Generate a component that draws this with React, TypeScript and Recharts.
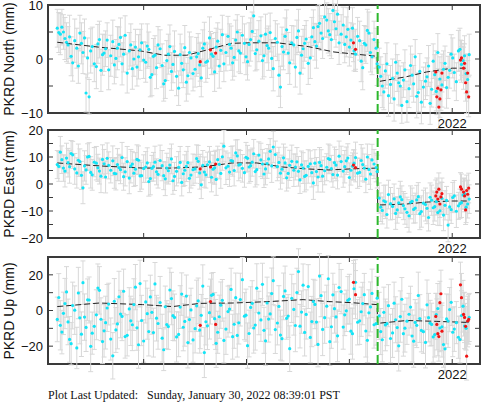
import {
  ComposedChart,
  Scatter,
  Line,
  XAxis,
  YAxis,
  ErrorBar,
  ReferenceLine,
  ReferenceArea,
} from "recharts";

// epochs (decimal year), first set
const dates = [
  2018.16, 2018.19, 2018.22, 2018.25, 2018.28, 2018.31, 2018.35, 2018.38, 2018.41, 2018.44,
  2018.47, 2018.5, 2018.54, 2018.57, 2018.6, 2018.63, 2018.66, 2018.7, 2018.73, 2018.76,
  2018.79, 2018.82, 2018.86, 2018.89, 2018.92, 2018.95, 2018.98, 2019.02, 2019.05, 2019.08,
  2019.11, 2019.14, 2019.18, 2019.21, 2019.24, 2019.27, 2019.3, 2019.34, 2019.37, 2019.4,
  2019.43, 2019.46, 2019.5, 2019.53, 2019.56, 2019.59, 2019.62, 2019.66, 2019.69, 2019.72,
  2019.75, 2019.78, 2019.82, 2019.85, 2019.88, 2019.91, 2019.94, 2019.98, 2020.01, 2020.04,
  2020.07, 2020.1, 2020.14, 2020.17, 2020.2, 2020.23, 2020.26, 2020.3, 2020.33, 2020.36,
  2020.39, 2020.42, 2020.46, 2020.49, 2020.52, 2020.55, 2020.58, 2020.62, 2020.65, 2020.68,
  2020.71, 2020.74, 2020.78, 2020.81, 2020.84, 2020.87, 2020.9, 2020.94, 2020.97, 2021.0,
  2021.03, 2021.06, 2021.1, 2021.13, 2021.16, 2021.19, 2021.22, 2021.26,
  2021.29, 2021.32, 2021.35, 2021.38, 2021.42, 2021.45, 2021.48, 2021.51, 2021.54, 2021.58,
  2021.61, 2021.64, 2021.67, 2021.7, 2021.74, 2021.77, 2021.8, 2021.83, 2021.86, 2021.9,
  2021.93, 2021.96, 2021.99, 2022.02, 2022.06, 2022.09, 2022.12, 2022.15,
];

// epochs, second set (in between the first)
const datesB = [
  2018.175, 2018.205, 2018.235, 2018.265, 2018.295, 2018.33, 2018.365, 2018.395, 2018.425, 2018.455,
  2018.485, 2018.52, 2018.555, 2018.585, 2018.615, 2018.645, 2018.68, 2018.715, 2018.745, 2018.775,
  2018.805, 2018.84, 2018.875, 2018.905, 2018.935, 2018.965, 2019.0, 2019.035, 2019.065, 2019.095,
  2019.125, 2019.16, 2019.195, 2019.225, 2019.255, 2019.285, 2019.32, 2019.355, 2019.385, 2019.415,
  2019.445, 2019.48, 2019.515, 2019.545, 2019.575, 2019.605, 2019.64, 2019.675, 2019.705, 2019.735,
  2019.765, 2019.8, 2019.835, 2019.865, 2019.895, 2019.925, 2019.96, 2019.995, 2020.025, 2020.055,
  2020.085, 2020.12, 2020.155, 2020.185, 2020.215, 2020.245, 2020.28, 2020.315, 2020.345, 2020.375,
  2020.405, 2020.44, 2020.475, 2020.505, 2020.535, 2020.565, 2020.6, 2020.635, 2020.665, 2020.695,
  2020.725, 2020.76, 2020.795, 2020.825, 2020.855, 2020.885, 2020.92, 2020.955, 2020.985, 2021.015,
  2021.045, 2021.08, 2021.115, 2021.145, 2021.175, 2021.205, 2021.24, 2021.27,
  2021.305, 2021.335, 2021.365, 2021.4, 2021.435, 2021.465, 2021.495, 2021.525, 2021.56, 2021.595,
  2021.625, 2021.655, 2021.685, 2021.72, 2021.755, 2021.785, 2021.815, 2021.845, 2021.88, 2021.915,
  2021.945, 2021.975, 2022.005, 2022.04, 2022.075, 2022.105, 2022.135, 2022.165,
];

const north = [
  5.7, 4.6, 5.0, 3.1, 4.1, -0.7, 2.0, 4.8, 1.2, -6.3,
  -7.0, 2.3, -1.4, 3.6, 0.8, 1.9, -2.0, 3.2, 0.1, 2.7,
  -0.9, 4.4, 1.5, -1.8, 2.2, 0.4, 3.0, -0.6, 1.8, -2.9,
  0.7, 2.6, -1.2, -4.0, 0.9, -2.3, 1.4, -5.4, -0.8, 2.1,
  -3.1, 0.2, -1.9, 1.0, -3.5, 2.8, -0.4, 0.9, -2.4, 3.3,
  1.6, -0.9, 4.2, 2.0, 0.3, 5.0, 1.1, 2.9, -0.5, 3.6,
  8.0, 1.7, 4.3, 0.6, 2.5, 4.9, -1.8, 3.1, -5.2, 1.3,
  5.4, -0.7, 2.6, 4.0, -2.6, 1.9, 3.7, 0.2, 5.8, 2.4,
  6.6, 3.8, 7.2, 4.5, 9.0, 5.6, 3.0, 6.3, 4.1, 2.2,
  5.7, 0.9, 3.4, -1.6, 2.6, 4.8, 0.4, 2.0,
  -1.5, -5.0, -2.2, -6.8, -3.6, -0.6, -4.4, -8.6, -2.0, -5.5,
  -3.0, 0.4, -6.2, -8.0, -4.1, -1.3, -5.6, -2.9, 1.2, -4.8,
  -0.8, -3.4, 0.9, -2.5, 1.5, -1.0, 0.6, -3.8,
];
const northB = [
  4.9, 5.9, 3.8, 2.6, 0.5, 3.4, -1.3, 2.9, 3.9, 0.2,
  1.5, -0.9, 2.8, -2.1, 1.1, 3.5, 0.6, -1.1, 2.0, 4.0,
  0.9, -2.6, 2.6, 0.0, -1.5, 1.7, -0.2, 2.4, -3.4, 0.5,
  -1.6, 1.9, -4.6, -0.3, 2.3, -1.0, -3.2, 0.8, -2.0, -4.3,
  1.2, -2.7, 0.4, -1.1, 2.0, -0.6, 3.9, 0.5, 2.2, -1.3,
  4.5, 1.2, 2.7, -0.7, 3.5, 1.5, 4.4, 0.4, 2.7, 5.1,
  1.0, 3.3, -0.3, 4.6, 2.0, 0.1, 3.8, -3.0, 2.3, 4.2,
  1.1, 3.0, -1.5, 5.2, 0.7, 2.9, -0.8, 4.1, 3.2, 6.0,
  4.8, 7.8, 5.2, 3.6, 6.9, 8.3, 4.6, 2.7, 5.5, 3.5,
  1.5, 4.2, -0.4, 2.9, 5.3, 1.2, 3.6, -0.9,
  -3.2, -6.1, -0.9, -4.7, -7.4, -2.6, -5.0, -3.9, -7.9, -1.2,
  -4.6, -6.9, -2.3, -5.2, -3.3, -8.2, -0.4, -6.0, -3.7, -1.9,
  -5.3, -2.1, 0.2, -4.2, 1.8, -0.3, -2.7, 0.8,
];

const northErr = [
  3.5, 3.8, 3.2, 3.6, 4.0, 3.4, 3.7, 3.3, 3.9, 3.5,
  3.2, 3.6, 4.1, 3.4, 3.8, 3.3, 3.7, 4.0, 3.5, 3.2,
  3.9, 3.6, 3.4, 3.8, 3.3, 4.1, 3.5, 3.7, 3.2, 3.9,
  3.6, 3.4, 4.0, 3.3, 3.7, 3.5, 3.8, 3.2, 3.6, 4.1,
  3.4, 3.9, 3.3, 3.7, 3.5, 4.0, 3.2, 3.8, 3.6, 3.4,
  3.9, 3.3, 3.7, 4.1, 3.5, 3.2, 3.8, 3.6, 3.4, 4.0,
  3.3, 3.7, 3.5, 3.9, 3.2, 3.6, 4.1, 3.4, 3.8, 3.3,
  3.7, 4.0, 3.5, 3.2, 3.9, 3.6, 3.4, 3.8, 3.3, 4.1,
  3.5, 3.7, 3.2, 3.9, 3.6, 3.4, 4.0, 3.3, 3.7, 3.5,
  3.8, 3.2, 3.6, 4.1, 3.4, 3.9, 3.3, 3.7,
  3.5, 4.0, 3.2, 3.8, 3.6, 3.4, 4.1, 3.3, 3.7, 3.5,
  3.9, 3.2, 3.6, 4.0, 3.4, 3.8, 3.3, 3.7, 3.5, 4.1,
  3.2, 3.9, 3.6, 3.4, 3.8, 3.3, 3.7, 3.5,
];
const northErrB = [
  3.7, 3.3, 3.9, 3.4, 3.6, 4.0, 3.2, 3.8, 3.5, 3.7,
  4.1, 3.3, 3.6, 3.9, 3.4, 3.2, 3.8, 3.5, 4.0, 3.6,
  3.3, 3.7, 3.9, 3.2, 3.5, 3.8, 3.4, 4.1, 3.6, 3.3,
  3.9, 3.5, 3.2, 3.7, 4.0, 3.4, 3.6, 3.8, 3.3, 3.5,
  3.8, 3.2, 3.6, 4.0, 3.4, 3.7, 3.9, 3.3, 3.5, 4.1,
  3.6, 3.4, 3.8, 3.2, 3.7, 3.9, 3.5, 3.3, 4.0, 3.6,
  3.2, 3.8, 3.4, 3.7, 4.1, 3.5, 3.3, 3.9, 3.6, 3.4,
  3.8, 3.2, 3.7, 4.0, 3.5, 3.3, 3.9, 3.6, 3.4, 3.8,
  3.2, 3.7, 4.1, 3.5, 3.3, 3.9, 3.6, 3.4, 4.0, 3.2,
  3.7, 3.5, 3.8, 3.3, 3.9, 3.6, 3.4, 4.0,
  3.6, 3.3, 3.9, 3.5, 4.1, 3.4, 3.7, 3.2, 3.8, 3.6,
  3.4, 4.0, 3.3, 3.7, 3.5, 3.9, 3.2, 3.6, 4.1, 3.4,
  3.8, 3.3, 3.7, 3.5, 3.9, 3.2, 3.6, 3.8,
];

const east = [
  7.2, 11.8, 5.9, 9.6, 6.4, 10.8, 4.1, 8.3, -1.4, 5.2,
  10.2, 3.4, 7.7, 4.8, 9.1, 2.6, 6.9, 8.6, 3.8, 6.1,
  9.8, 4.5, 2.2, 7.4, 5.5, 8.8, 3.1, 6.3, 0.9, 5.8,
  8.1, 3.6, 6.8, 1.9, 4.9, 9.3, 2.8, 6.2, 0.6, 5.1,
  7.9, 3.3, 5.6, 8.4, -0.3, 4.4, 7.1, 2.5, 6.0, 9.0,
  3.9, 14.0, 6.6, 8.7, 5.0, 10.4, 7.3, 4.2, 9.5, 6.8,
  11.2, 5.3, 8.9, 3.7, 7.6, 12.1, 13.7, 6.4, 4.0, 9.7,
  2.3, 6.9, 5.1, 8.2, 1.5, 5.9, 3.2, 7.5, 0.4, 4.6,
  8.0, 2.9, 6.2, 9.1, 3.5, 7.0, 10.3, 4.8, 8.6, 2.4,
  6.6, 9.8, 4.3, 7.2, 1.8, 5.4, 8.9, 6.1,
  -5.2, -9.8, -6.6, -3.9, -8.3, -10.9, -7.0, -5.8, -9.2, -11.8,
  -6.4, -8.9, -4.7, -10.2, -7.6, -12.4, -6.0, -8.4, -10.6, -5.3,
  -7.9, -15.2, -9.5, -4.4, -8.1, -6.9, -3.6, -7.4,
];
const eastB = [
  6.5, 9.0, 4.8, 7.9, 11.3, 5.6, 8.8, 3.2, 6.7, 10.0,
  4.3, 8.1, 6.0, 2.9, 7.5, 9.5, 5.1, 3.9, 7.2, 5.3,
  2.7, 8.3, 6.6, 4.0, 9.1, 3.0, 5.7, 7.8, 2.0, 6.4,
  4.5, 8.7, 3.1, 5.9, 7.0, 1.2, 4.7, 8.0, 3.8, 6.5,
  2.1, 5.3, 9.4, 4.1, 6.9, 3.4, 8.2, 5.5, 1.7, 7.3,
  10.1, 6.0, 4.4, 8.5, 11.5, 7.0, 5.8, 9.9, 6.3, 8.1,
  4.6, 10.7, 7.4, 5.6, 9.3, 6.7, 10.9, 8.0, 5.5, 7.8,
  3.9, 8.4, 6.3, 4.7, 7.1, 2.8, 6.5, 4.2, 7.7, 2.6,
  6.8, 4.9, 9.4, 5.7, 7.9, 3.3, 8.3, 6.4, 9.6, 5.1,
  7.7, 4.0, 8.7, 5.9, 10.0, 3.7, 7.4, 4.6,
  -8.6, -6.2, -11.3, -7.3, -5.5, -9.6, -4.8, -8.0, -10.5, -6.8,
  -9.4, -5.9, -11.0, -7.1, -9.0, -4.9, -8.8, -6.5, -9.9, -11.5,
  -6.1, -8.5, -5.0, -10.1, -7.3, -4.1, -8.6, -5.6,
];

const eastErr = [
  5.2, 5.8, 4.9, 5.5, 6.1, 5.0, 5.6, 4.7, 5.9, 5.3,
  5.1, 5.7, 6.2, 4.8, 5.4, 5.9, 5.0, 5.5, 6.0, 4.9,
  5.6, 5.2, 5.8, 4.7, 6.1, 5.3, 5.0, 5.7, 5.4, 4.8,
  5.9, 5.1, 5.6, 6.2, 4.9, 5.5, 5.2, 5.8, 5.0, 5.7,
  6.0, 4.8, 5.3, 5.9, 5.1, 5.6, 4.7, 5.4, 6.1, 5.0,
  5.5, 5.8, 4.9, 5.2, 5.7, 6.0, 5.1, 5.4, 4.8, 5.9,
  5.3, 5.6, 6.2, 5.0, 5.5, 4.7, 5.8, 5.2, 5.9, 5.1,
  4.9, 5.6, 6.0, 5.3, 5.0, 5.7, 5.4, 4.8, 6.1, 5.2,
  5.5, 5.9, 5.0, 5.3, 4.7, 5.8, 5.6, 6.0, 5.1, 5.4,
  4.9, 5.7, 5.2, 6.1, 5.0, 5.5, 5.8, 5.3,
  5.6, 5.0, 6.2, 5.3, 4.8, 5.9, 5.4, 5.1, 5.7, 6.0,
  4.9, 5.5, 5.2, 5.8, 6.1, 5.0, 5.6, 5.3, 4.7, 5.9,
  5.4, 6.2, 5.1, 5.7, 5.0, 5.5, 5.8, 5.2,
];
const eastErrB = [
  5.5, 5.1, 5.9, 5.3, 4.8, 5.7, 6.0, 5.2, 5.6, 4.9,
  5.8, 5.4, 5.0, 6.1, 5.3, 5.7, 4.7, 5.5, 5.9, 5.2,
  5.0, 5.6, 6.2, 4.9, 5.4, 5.8, 5.1, 5.6, 6.0, 5.3,
  4.8, 5.7, 5.2, 5.5, 6.1, 5.0, 5.4, 5.9, 4.7, 5.6,
  5.3, 5.8, 5.1, 6.0, 5.5, 4.9, 5.7, 5.2, 5.9, 5.4,
  5.0, 6.2, 5.3, 5.6, 4.8, 5.8, 5.1, 5.5, 6.0, 5.2,
  5.7, 4.9, 5.4, 5.9, 5.3, 6.1, 5.0, 5.6, 5.2, 5.8,
  5.4, 6.0, 4.8, 5.5, 5.1, 5.7, 6.2, 5.3, 5.0, 5.6,
  5.9, 5.2, 5.4, 4.9, 5.8, 5.1, 5.7, 6.0, 5.3, 5.5,
  5.0, 5.6, 5.9, 5.2, 4.8, 5.7, 5.4, 6.1,
  5.3, 5.7, 5.0, 6.0, 5.5, 4.9, 5.8, 5.2, 5.6, 6.1,
  5.1, 5.4, 5.9, 4.8, 5.7, 5.3, 6.2, 5.0, 5.5, 5.8,
  5.2, 4.9, 5.6, 6.0, 5.4, 5.1, 5.7, 5.3,
];

const up = [
  -5.0, -8.3, -1.6, 10.4, -16.2, 2.8, -21.0, -4.1, 15.6, -9.5,
  5.9, -12.7, -2.4, 11.3, -17.4, -6.8, 3.6, -25.4, -10.9, 7.7,
  -3.3, -14.6, 0.9, -8.0, 13.1, -19.2, -5.6, 4.8, -11.8, -1.0,
  14.9, -7.3, -15.5, 2.1, -9.0, 6.7, -3.9, -13.4, 9.2, -6.1,
  -18.0, 0.3, -10.2, 5.4, -2.7, -23.6, -8.6, 8.5, -4.6, -12.2,
  3.0, -16.8, -0.6, 11.8, -7.7, -14.0, 6.1, -3.2, -19.7, 1.7,
  -9.8, 12.5, -5.3, -11.1, 4.2, -1.9, 16.7, -7.0, -13.8, 7.9,
  -4.4, -21.4, 0.6, 10.1, -8.8, 14.2, -2.2, -15.1, 5.0, -6.5,
  19.3, -10.6, 2.4, -17.5, 8.8, -3.6, 12.9, -9.3, -0.2, 6.4,
  -13.0, 15.8, -5.8, 3.9, -11.5, -1.3, 9.6, -7.4,
  -3.0, -16.4, -8.1, 2.7, -12.6, -5.2, -19.8, 6.3, -9.9, -2.1,
  -14.3, -6.7, 8.4, -11.2, -17.9, -4.0, -7.8, -13.5, 1.1, -9.1,
  -21.5, -5.9, 4.6, -10.4, -15.0, -2.8, -8.7, -6.2,
];
const upB = [
  7.3, -12.1, 3.9, -6.4, -18.6, 0.2, 9.8, -13.3, -3.7, 6.0,
  -20.1, -8.9, 12.6, -4.9, -11.4, 1.4, -16.0, 5.2, -7.5, -2.0,
  10.8, -13.9, -5.8, 3.3, -9.7, 15.1, -17.1, -1.8, 7.6, -12.4,
  -4.3, 4.5, -22.0, -7.9, 11.5, -2.9, -14.8, 1.9, -9.4, 8.1,
  -5.1, -16.5, 2.6, -11.0, 13.7, -6.3, -1.2, 9.0, -18.4, -3.5,
  5.7, -10.4, 0.8, -14.7, 7.2, -6.9, 17.3, -2.6, -12.9, 4.0,
  -8.2, -1.4, 14.7, -17.0, -4.8, 9.5, -10.7, 2.3, -15.8, 11.0,
  -3.1, 6.8, -8.4, 21.8, -0.9, -12.3, 13.4, -6.2, 3.4, -19.0,
  8.3, -4.0, 17.8, -9.1, 1.0, -14.2, 10.6, -2.4, 5.7, -11.6,
  12.2, -6.6, -0.7, 8.9, -16.7, 2.0, -8.0, 6.9,
  -11.8, -1.0, -7.4, -15.7, 4.1, -9.6, -3.4, -13.0, -6.0, 1.9,
  -17.2, -8.3, -4.5, -11.9, 3.2, -7.1, -14.8, -2.3, -9.8, -19.1,
  -4.7, 0.5, -12.2, -6.8, -16.3, 2.4, -10.0, -3.9,
];

const upErr = [
  12.5, 13.8, 11.9, 14.2, 12.8, 13.1, 11.6, 14.6, 12.2, 13.5,
  12.9, 11.8, 14.0, 13.3, 12.4, 14.8, 11.7, 13.0, 12.6, 14.3,
  13.6, 12.1, 11.9, 14.5, 12.7, 13.2, 14.1, 11.8, 13.7, 12.3,
  12.0, 14.4, 13.4, 11.6, 12.9, 14.7, 13.1, 12.5, 11.9, 13.9,
  14.2, 12.2, 13.6, 12.8, 11.7, 14.0, 13.3, 12.4, 14.6, 11.8,
  13.0, 12.6, 14.3, 11.9, 13.5, 12.1, 14.8, 13.2, 12.7, 11.6,
  14.1, 13.7, 12.0, 12.9, 14.5, 11.8, 13.4, 12.3, 14.0, 13.1,
  11.7, 12.8, 14.4, 13.6, 12.2, 11.9, 13.8, 14.2, 12.5, 13.0,
  12.6, 14.7, 11.8, 13.3, 12.1, 14.1, 13.5, 12.4, 11.6, 13.9,
  14.3, 12.7, 13.2, 11.9, 14.6, 12.9, 13.6, 12.0,
  13.2, 12.4, 14.5, 11.8, 13.7, 12.9, 14.1, 12.2, 13.4, 11.7,
  14.6, 12.8, 13.1, 12.0, 14.3, 13.6, 11.9, 12.6, 14.0, 13.3,
  12.1, 14.8, 13.0, 12.5, 11.8, 13.9, 12.7, 14.2,
];
const upErrB = [
  13.4, 12.2, 14.1, 12.8, 11.9, 13.6, 14.4, 12.5, 13.0, 11.7,
  14.2, 12.9, 13.5, 12.0, 14.7, 13.2, 11.8, 12.7, 14.0, 13.3,
  12.4, 11.6, 13.8, 14.5, 12.6, 13.1, 11.9, 14.3, 12.2, 13.7,
  12.8, 14.6, 11.7, 13.4, 12.3, 13.9, 14.1, 12.0, 13.2, 11.8,
  13.6, 12.5, 14.4, 12.9, 11.9, 13.0, 14.8, 12.3, 13.5, 12.1,
  11.7, 14.2, 13.3, 12.6, 13.8, 11.9, 12.4, 14.6, 13.1, 12.7,
  14.0, 12.2, 11.8, 13.7, 12.9, 14.3, 13.4, 11.6, 12.5, 13.9,
  12.0, 13.5, 14.7, 12.8, 11.9, 13.2, 12.3, 14.1, 13.6, 12.6,
  11.8, 14.4, 13.0, 12.1, 13.7, 14.5, 12.4, 11.7, 13.3, 12.9,
  14.2, 12.7, 13.8, 11.9, 12.5, 14.0, 13.1, 12.2,
  12.9, 14.1, 12.3, 13.6, 11.8, 13.2, 14.4, 12.6, 13.0, 11.7,
  14.6, 12.5, 13.4, 12.1, 13.9, 12.8, 14.2, 11.9, 13.3, 12.7,
  14.0, 12.4, 13.7, 11.8, 13.1, 14.5, 12.2, 13.5,
];

// flagged (red) epochs
const redDates = [
  2019.55, 2019.65, 2019.7, 2021.04, 2021.06, 2021.84, 2021.85, 2021.86, 2021.87, 2021.88,
  2021.89, 2021.9, 2022.08, 2022.09, 2022.11, 2022.12, 2022.13, 2022.14, 2022.15, 2022.16,
];
const redNorth = [-0.5, 1.7, 1.1, 3.0, 1.8, -2.4, -7.0, -5.4, -8.9, -7.4, -5.7, -2.6, -0.2, 0.2, -1.7, -0.8, -4.4, -6.1, -2.6, -7.0];
const redNorthErr = [3.6, 3.4, 3.8, 3.5, 3.7, 3.9, 3.3, 3.6, 4.0, 3.4, 3.8, 3.5, 3.7, 3.2, 3.9, 3.6, 3.4, 4.0, 3.5, 3.7];
const redEast = [5.6, 6.3, 7.4, 7.0, 6.1, -4.4, -3.0, -5.6, -1.9, -7.4, -4.8, -3.6, -1.1, -1.9, -3.0, -4.4, -9.6, -2.4, -3.8, -1.5];
const redEastErr = [5.4, 5.8, 5.1, 5.6, 5.3, 5.9, 5.2, 5.7, 6.0, 5.0, 5.5, 5.8, 5.3, 5.6, 5.1, 5.9, 5.4, 5.7, 5.2, 5.5];
const redUp = [-8.3, 5.0, -7.8, 15.8, 8.9, -3.3, -7.8, -13.0, -14.6, 4.4, 9.4, -11.6, 14.4, 7.2, -2.2, -3.9, -8.9, -25.6, -6.0, -5.0];
const redUpErr = [13.1, 12.6, 14.0, 12.2, 13.5, 12.9, 14.3, 12.4, 13.8, 12.0, 13.2, 14.5, 12.7, 13.6, 12.1, 14.1, 12.8, 13.4, 12.3, 13.9];

// fitted model (dashed black), with the offset step
const northModelT = [2018.16, 2018.56, 2018.97, 2019.2, 2019.42, 2019.62, 2019.85, 2020.03, 2020.3, 2020.6, 2020.85, 2021.06, 2021.27, 2021.275, 2021.55, 2021.75, 2022.0, 2022.16];
const northModel = [3.1, 2.2, 1.5, 0.7, 0.7, 1.7, 2.9, 3.0, 3.0, 2.3, 1.3, 0.9, 0.5, -4.2, -3.3, -2.4, -1.7, -1.7];
const eastModelT = [2018.16, 2018.57, 2018.99, 2019.28, 2019.55, 2019.71, 2019.86, 2020.1, 2020.35, 2020.58, 2020.8, 2021.02, 2021.27, 2021.275, 2021.56, 2021.75, 2022.0, 2022.16];
const eastModel = [7.8, 6.7, 5.9, 5.9, 6.3, 7.0, 7.8, 7.8, 6.3, 5.6, 5.2, 5.6, 5.9, -7.8, -7.4, -6.7, -6.3, -6.3];
const upModelT = [2018.16, 2018.57, 2018.99, 2019.28, 2019.55, 2019.87, 2020.22, 2020.55, 2020.8, 2021.02, 2021.27, 2021.275, 2021.56, 2021.85, 2022.16];
const upModel = [2.2, 4.2, 3.3, 2.2, 4.0, 4.2, 5.0, 6.1, 5.0, 4.4, 3.3, -7.2, -5.6, -6.1, -6.7];

const offsetDate = 2021.275;
const yearTicks = [2019, 2020, 2021, 2022];
const yearLabels = [2022];

const FONT = "'Liberation Sans', Arial, Helvetica, sans-serif";
const PLOT_L = 48;
const PLOT_R = 480;
const X_DOMAIN = [2018.07, 2022.27];
const CYAN = "#14e4f6";
const RED = "#f01414";
const BAR = "#d8d8d8";
const FRAME = "#3a3a3a";

const fmt = (v: number) => (v < 0 ? "\u2212" + Math.abs(v) : String(v));

const makeXTick = (top: number, bottom: number) => (props: any) => {
  const { x, payload } = props;
  return (
    <g>
      <line x1={x} x2={x} y1={bottom} y2={bottom - 5} stroke={FRAME} />
      <line x1={x} x2={x} y1={top} y2={top + 5} stroke={FRAME} />
      {yearLabels.includes(payload.value) && (
        <text x={x} y={bottom + 15} textAnchor="middle" fontSize={13} fontFamily={FONT} fill="#111">
          {payload.value}
        </text>
      )}
    </g>
  );
};

const makeYTick = (labels: number[]) => (props: any) => {
  const { y, payload } = props;
  return (
    <g>
      <line x1={PLOT_L} x2={PLOT_L + 5} y1={y} y2={y} stroke={FRAME} />
      <line x1={PLOT_R - 5} x2={PLOT_R} y1={y} y2={y} stroke={FRAME} />
      {labels.includes(payload.value) && (
        <text x={PLOT_L - 5} y={y} dy="0.37em" textAnchor="end" fontSize={13} fontFamily={FONT} fill="#111">
          {fmt(payload.value)}
        </text>
      )}
    </g>
  );
};

const noDot = () => <g />;
const cyanDot = (p: any) => <circle cx={p.cx} cy={p.cy} r={1.6} fill={CYAN} />;
const redDot = (p: any) => <circle cx={p.cx} cy={p.cy} r={1.6} fill={RED} />;

type PanelCfg = {
  name: string;
  values: number[];
  valuesB: number[];
  errs: number[];
  errsB: number[];
  redValues: number[];
  redErrs: number[];
  modelT: number[];
  model: number[];
  domain: [number, number];
  ticks: number[];
  labels: number[];
  top: number;
  marginTop: number;
  plotH: number;
};

const panels: PanelCfg[] = [
  {
    name: "PKRD North (mm)",
    values: north, valuesB: northB, errs: northErr, errsB: northErrB,
    redValues: redNorth, redErrs: redNorthErr,
    modelT: northModelT, model: northModel,
    domain: [-10, 10], ticks: [-10, -5, 0, 5, 10], labels: [-10, 0, 10],
    top: 0, marginTop: 5, plotH: 108,
  },
  {
    name: "PKRD East (mm)",
    values: east, valuesB: eastB, errs: eastErr, errsB: eastErrB,
    redValues: redEast, redErrs: redEastErr,
    modelT: eastModelT, model: eastModel,
    domain: [-20, 20], ticks: [-20, -15, -10, -5, 0, 5, 10, 15, 20], labels: [-20, -10, 0, 10, 20],
    top: 120, marginTop: 10, plotH: 108,
  },
  {
    name: "PKRD Up (mm)",
    values: up, valuesB: upB, errs: upErr, errsB: upErrB,
    redValues: redUp, redErrs: redUpErr,
    modelT: upModelT, model: upModel,
    domain: [-30, 30], ticks: [-30, -20, -10, 0, 10, 20, 30], labels: [-20, 0, 20],
    top: 245, marginTop: 12, plotH: 107,
  },
];

function Panel({ cfg }: { cfg: PanelCfg }) {
  const rows = [
    ...dates.map((t, i) => ({ t, v: cfg.values[i], err: cfg.errs[i] })),
    ...datesB.map((t, i) => ({ t, v: cfg.valuesB[i], err: cfg.errsB[i] })),
  ];
  const redRows = redDates.map((t, i) => ({ t, v: cfg.redValues[i], err: cfg.redErrs[i] }));
  const modelRows = cfg.modelT.map((t, i) => ({ t, v: cfg.model[i] }));
  const top = cfg.marginTop;
  const bottom = cfg.marginTop + cfg.plotH;
  return (
    <div style={{ position: "absolute", left: 0, top: cfg.top }}>
      <ComposedChart width={481} height={bottom + 20} margin={{ top, right: 1, bottom: 0, left: 8 }}>
        <XAxis
          dataKey="t"
          type="number"
          domain={X_DOMAIN}
          ticks={yearTicks}
          interval={0}
          allowDataOverflow
          axisLine={false}
          tickLine={false}
          height={20}
          tick={makeXTick(top, bottom)}
        />
        <YAxis
          type="number"
          domain={cfg.domain}
          ticks={cfg.ticks}
          interval={0}
          allowDataOverflow
          axisLine={false}
          tickLine={false}
          width={40}
          tick={makeYTick(cfg.labels)}
        />
        <Scatter data={rows} dataKey="v" shape={noDot} isAnimationActive={false}>
          <ErrorBar dataKey="err" direction="y" width={2.5} stroke={BAR} strokeWidth={1} isAnimationActive={false} />
        </Scatter>
        <Scatter data={redRows} dataKey="v" shape={noDot} isAnimationActive={false}>
          <ErrorBar dataKey="err" direction="y" width={2.5} stroke={BAR} strokeWidth={1} isAnimationActive={false} />
        </Scatter>
        <Scatter data={rows} dataKey="v" shape={cyanDot} isAnimationActive={false} />
        <Scatter data={redRows} dataKey="v" shape={redDot} isAnimationActive={false} />
        <Line
          data={modelRows}
          dataKey="v"
          type="linear"
          stroke="#222"
          strokeWidth={1}
          strokeDasharray="6 3"
          dot={false}
          isAnimationActive={false}
        />
        <ReferenceLine x={offsetDate} stroke="#2cb82c" strokeWidth={2} strokeDasharray="9 4" />
        <ReferenceArea
          x1={X_DOMAIN[0]}
          x2={X_DOMAIN[1]}
          y1={cfg.domain[0]}
          y2={cfg.domain[1]}
          fill="none"
          stroke={FRAME}
          strokeWidth={2}
          ifOverflow="visible"
        />
      </ComposedChart>
      <div
        style={{
          position: "absolute",
          left: 9,
          top: top + cfg.plotH / 2,
          transform: "translate(-50%, -50%) rotate(-90deg)",
          whiteSpace: "nowrap",
          fontFamily: FONT,
          fontSize: 14,
          color: "#111",
        }}
      >
        {cfg.name}
      </div>
    </div>
  );
}

export default function App() {
  return (
    <div style={{ position: "absolute", left: 0, top: 0, width: 481, height: 404, background: "#fff", overflow: "hidden" }}>
      {panels.map((p) => (
        <Panel key={p.name} cfg={p} />
      ))}
      <div
        style={{
          position: "absolute",
          left: 48,
          top: 388,
          fontFamily: "'Liberation Serif', 'Times New Roman', serif",
          fontSize: 12,
          whiteSpace: "pre",
          color: "#111",
        }}
      >
        {"Plot Last Updated:   Sunday, January 30, 2022 08:39:01 PST"}
      </div>
    </div>
  );
}
